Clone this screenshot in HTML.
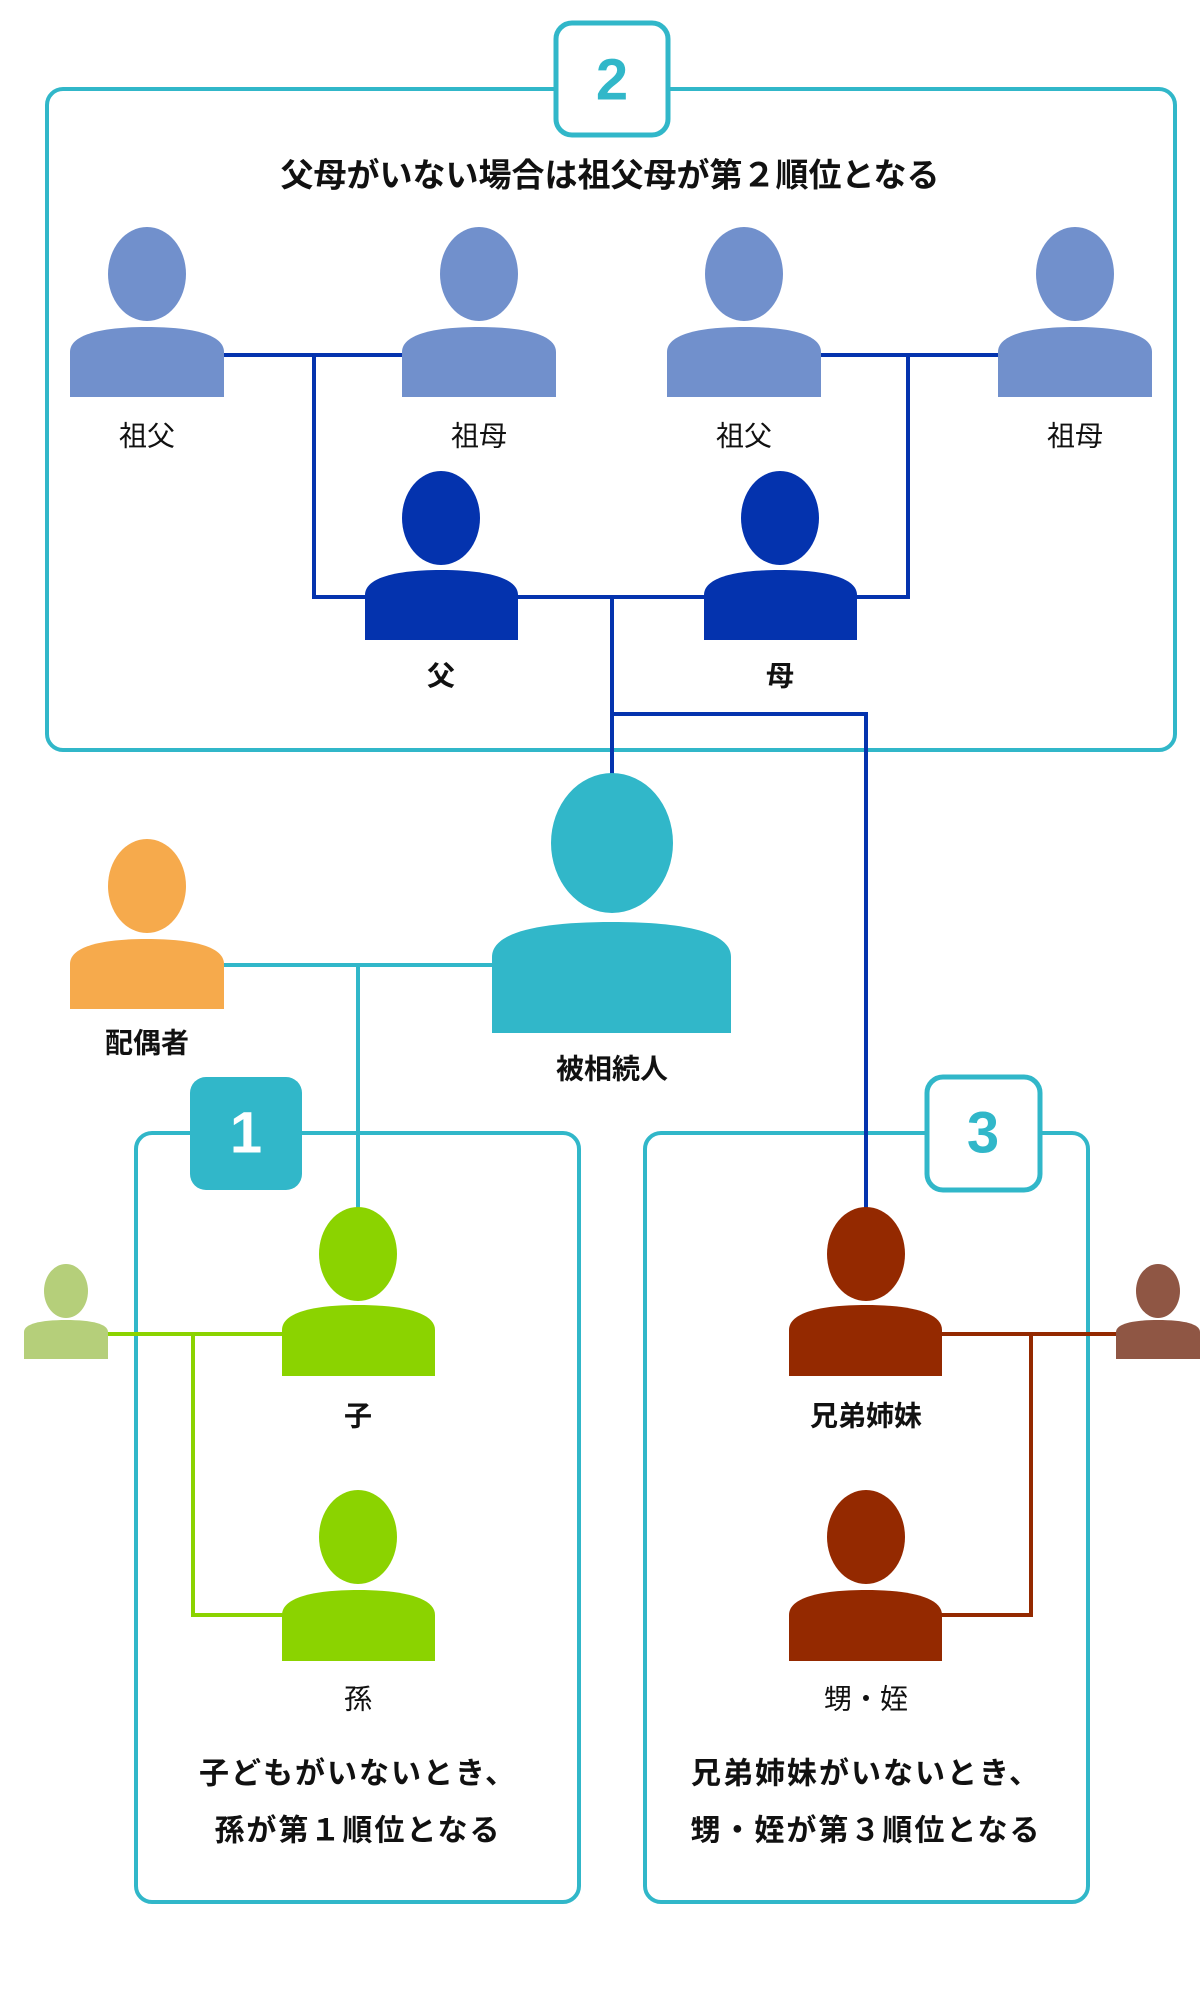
<!DOCTYPE html>
<html><head><meta charset="utf-8"><style>
html,body{margin:0;padding:0;background:#fff;}
svg{display:block;}
text{font-family:"Liberation Sans","Noto Sans CJK JP",sans-serif;dominant-baseline:central;text-anchor:middle;fill:#111;}
.b{font-weight:bold;font-size:28px;}
.r{font-size:28px;}
.c{font-weight:bold;font-size:30px;letter-spacing:2px;}
</style></head><body>
<svg width="1200" height="2000" viewBox="0 0 1200 2000" xmlns="http://www.w3.org/2000/svg">
<rect x="47" y="89" width="1128" height="661" rx="16" fill="none" stroke="#31b7c9" stroke-width="4"/>
<rect x="136" y="1133" width="443" height="769" rx="16" fill="none" stroke="#31b7c9" stroke-width="4"/>
<rect x="645" y="1133" width="443" height="769" rx="16" fill="none" stroke="#31b7c9" stroke-width="4"/>
<rect x="556" y="23" width="112" height="112" rx="16" fill="#fff" stroke="#31b7c9" stroke-width="5"/>
<text x="612" y="80" style="font-size:58px;font-weight:bold;fill:#31b7c9">2</text>
<rect x="190" y="1077" width="112" height="113" rx="16" fill="#31b7c9"/>
<text x="246" y="1133" style="font-size:58px;font-weight:bold;fill:#fff">1</text>
<rect x="927" y="1077" width="113" height="113" rx="16" fill="#fff" stroke="#31b7c9" stroke-width="5"/>
<text x="983" y="1133" style="font-size:58px;font-weight:bold;fill:#31b7c9">3</text>
<text x="610" y="175" class="b" style="font-size:33px">父母がいない場合は祖父母が第２順位となる</text>

<g fill="none" stroke="#0433ae" stroke-width="4">
<path d="M223 355H402M314 355V597H365"/>
<path d="M820 355H998M908 355V597H857"/>
<path d="M518 597H705M612 597V780M612 714H866V1210"/>
</g>
<g fill="none" stroke="#31b7c9" stroke-width="4">
<path d="M224 965H500M358 965V1300"/>
</g>
<g fill="none" stroke="#8bd300" stroke-width="4">
<path d="M108 1334H290M193 1334V1615H290"/>
</g>
<g fill="none" stroke="#942900" stroke-width="4">
<path d="M935 1334H1120M1031 1334V1615H935"/>
</g>

<g fill="#7190cc">
<ellipse cx="147" cy="274" rx="39" ry="47"/><path d="M70 397V352C70 335 100 327 147 327C194 327 224 335 224 352V397Z"/>
<ellipse cx="479" cy="274" rx="39" ry="47"/><path d="M402 397V352C402 335 432 327 479 327C526 327 556 335 556 352V397Z"/>
<ellipse cx="744" cy="274" rx="39" ry="47"/><path d="M667 397V352C667 335 697 327 744 327C791 327 821 335 821 352V397Z"/>
<ellipse cx="1075" cy="274" rx="39" ry="47"/><path d="M998 397V352C998 335 1028 327 1075 327C1122 327 1152 335 1152 352V397Z"/>
</g>
<text x="147" y="436" class="r">祖父</text>
<text x="479" y="436" class="r">祖母</text>
<text x="744" y="436" class="r">祖父</text>
<text x="1075" y="436" class="r">祖母</text>
<g fill="#0433ae">
<ellipse cx="441" cy="518" rx="39" ry="47"/><path d="M365 640V595C365 578 395 570 441 570C487 570 518 578 518 595V640Z"/>
<ellipse cx="780" cy="518" rx="39" ry="47"/><path d="M704 640V595C704 578 734 570 780 570C826 570 857 578 857 595V640Z"/>
</g>
<text x="441" y="676" class="b">父</text>
<text x="780" y="676" class="b">母</text>
<g fill="#31b7c9">
<ellipse cx="612" cy="843" rx="61" ry="70"/><path d="M492 1033V957C492 932 540 922 612 922C684 922 731 932 731 957V1033Z"/>
</g>
<text x="612" y="1069" class="b">被相続人</text>
<g fill="#f6aa4c">
<ellipse cx="147" cy="886" rx="39" ry="47"/><path d="M70 1009V964C70 947 100 939 147 939C194 939 224 947 224 964V1009Z"/>
</g>
<text x="147" y="1043" class="b">配偶者</text>
<g fill="#8bd300">
<ellipse cx="358" cy="1254" rx="39" ry="47"/><path d="M282 1376V1330C282 1313 312 1305 358 1305C404 1305 435 1313 435 1330V1376Z"/>
<ellipse cx="358" cy="1537" rx="39" ry="47"/><path d="M282 1661V1615C282 1598 312 1590 358 1590C404 1590 435 1598 435 1615V1661Z"/>
</g>
<g fill="#b5cf7a"><ellipse cx="66" cy="1291" rx="22" ry="27"/><path d="M24 1359V1332C24 1324 40 1320 66 1320C92 1320 108 1324 108 1332V1359Z"/></g>
<text x="358" y="1416" class="b">子</text>
<text x="358" y="1699" class="r">孫</text>
<g fill="#942900">
<ellipse cx="866" cy="1254" rx="39" ry="47"/><path d="M789 1376V1330C789 1313 819 1305 866 1305C912 1305 942 1313 942 1330V1376Z"/>
<ellipse cx="866" cy="1537" rx="39" ry="47"/><path d="M789 1661V1615C789 1598 819 1590 866 1590C912 1590 942 1598 942 1615V1661Z"/>
</g>
<g fill="#8f5644"><ellipse cx="1158" cy="1291" rx="22" ry="27"/><path d="M1116 1359V1332C1116 1324 1132 1320 1158 1320C1184 1320 1200 1324 1200 1332V1359Z"/></g>
<text x="866" y="1416" class="b">兄弟姉妹</text>
<text x="866" y="1699" class="r">甥・姪</text>
<text x="358" y="1774" class="c">子どもがいないとき、</text>
<text x="358" y="1831" class="c">孫が第１順位となる</text>
<text x="866" y="1774" class="c">兄弟姉妹がいないとき、</text>
<text x="866" y="1831" class="c">甥・姪が第３順位となる</text>
</svg>
</body></html>
